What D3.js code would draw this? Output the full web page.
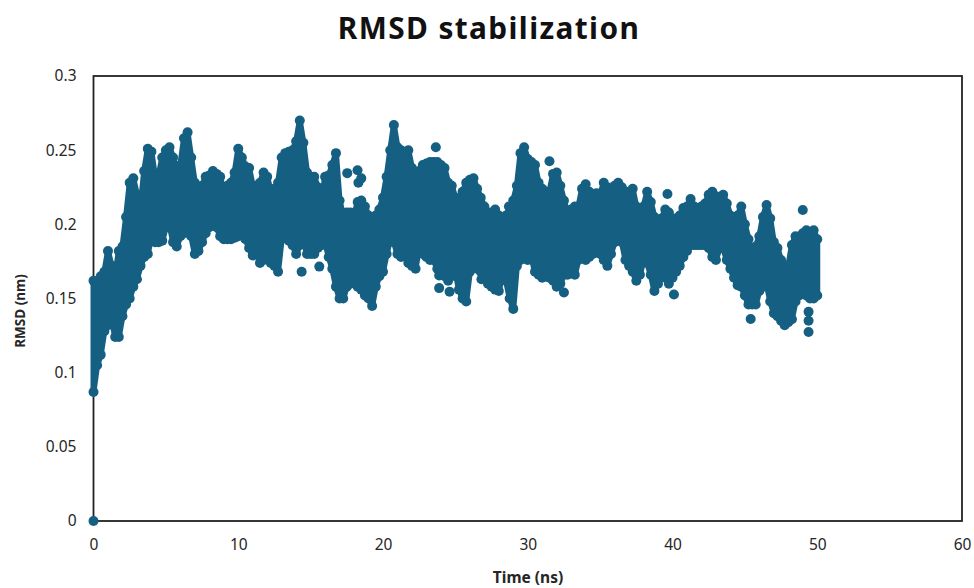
<!DOCTYPE html>
<html>
<head>
<meta charset="utf-8">
<title>RMSD stabilization</title>
<script src="https://cdn.jsdelivr.net/npm/d3@7"></script>
<style>
body { margin: 0; background: #fff; }
text { font-family: "Noto Sans", sans-serif; fill: #262626; }
</style>
</head>
<body>
<div id="chart"></div>
<script>
// values, one column every 0.25 ns
var timeStep = 0.25;
var xTicks = [0, 10, 20, 30, 40, 50, 60];
var yTicks = [0, 0.05, 0.1, 0.15, 0.2, 0.25, 0.3];

// top edge of the cloud
var rmsdHigh = [
    .162,.160,.165,.168, .182,.172,.166,.182, .185,.205,.228,.231, .220,.212,.236,.251,
    .249,.232,.233,.245, .250,.252,.245,.236, .240,.258,.262,.245, .228,.224,.226,.232,
    .233,.236,.234,.232, .222,.226,.228,.235, .251,.245,.239,.238, .226,.226,.228,.235,
    .232,.222,.224,.228, .245,.248,.249,.250, .256,.270,.255,.235, .232,.232,.225,.216,
    .232,.233,.240,.248, .216,.206,.208,.208, .206,.215,.216,.212, .206,.200,.206,.210,
    .218,.232,.250,.267, .252,.250,.247,.250, .238,.235,.236,.240, .241,.242,.242,.242,
    .240,.238,.228,.226, .218,.216,.222,.228, .230,.231,.224,.218, .212,.208,.208,.210,
    .206,.204,.206,.208, .216,.226,.248,.252, .244,.242,.240,.228, .224,.222,.222,.234,
    .235,.226,.216,.208, .210,.212,.212,.224, .227,.222,.220,.221, .220,.228,.225,.224,
    .226,.228,.225,.222, .222,.224,.212,.204, .212,.222,.215,.205, .203,.204,.210,.208,
    .204,.204,.206,.211, .212,.217,.212,.211, .212,.214,.220,.222, .219,.218,.220,.214,
    .206,.204,.206,.212, .200,.190,.180,.185, .192,.205,.213,.204, .188,.184,.176,.172,
    .172,.186,.192,.190, .194,.196,.190,.196, .190
];

// bottom edge of the cloud
var rmsdLow = [
    .087,.105,.112,.128, .132,.136,.124,.124, .138,.146,.150,.158, .163,.172,.178,.180,
    .192,.188,.188,.189, .198,.200,.188,.185, .192,.194,.199,.192, .180,.182,.188,.194,
    .198,.200,.198,.192, .190,.190,.190,.191, .192,.194,.190,.184, .179,.182,.174,.176,
    .178,.174,.172,.168, .190,.192,.189,.186, .180,.186,.190,.180, .180,.180,.184,.186,
    .188,.178,.170,.158, .150,.150,.158,.160, .162,.158,.156,.152, .150,.145,.158,.165,
    .168,.180,.190,.188, .180,.178,.180,.174, .172,.170,.185,.180, .178,.176,.176,.170,
    .170,.165,.162,.165, .168,.156,.150,.148, .168,.172,.170,.168, .165,.160,.158,.156,
    .155,.166,.162,.150, .143,.172,.176,.178, .176,.178,.168,.166, .164,.165,.164,.162,
    .158,.160,.166,.166, .168,.166,.176,.180, .176,.178,.180,.182, .180,.176,.172,.180,
    .188,.190,.188,.176, .172,.168,.162,.166, .176,.174,.166,.155, .160,.166,.164,.160,
    .164,.168,.172,.178, .182,.186,.186,.186, .186,.186,.184,.178, .176,.184,.184,.176,
    .170,.164,.159,.158, .152,.146,.146,.146, .155,.158,.160,.148, .140,.138,.135,.132,
    .134,.136,.148,.152, .154,.152,.150,.150, .152
];

// points standing clear of the cloud
var looseTime = [0, 14.38, 15.6, 17.53, 18.24, 18.3, 18.5, 23.65, 23.88, 23.88, 24.6, 26.8, 28.7, 31.5, 32.5, 39.65, 40.1, 45.4, 49, 49.4, 49.4, 49.4];
var looseRmsd = [0, .168, .1715, .2345, .2365, .228, .231, .252, .1655, .157, .1545, .163, .212, .2425, .154, .2205, .1527, .1362, .2097, .1274, .135, .141];

var dotColor = "#156082";
var dotRadius = 5;

var svg = d3.select("#chart").append("svg")
    .attr("width", 974)
    .attr("height", 588);

var x = d3.scaleLinear().domain([0, 60]).range([93.5, 962]);
var y = d3.scaleLinear().domain([0, 0.3]).range([521, 76]);

svg.append("text")
    .attr("x", 489)
    .attr("y", 39)
    .attr("text-anchor", "middle")
    .style("font-size", "29.8px")
    .style("font-weight", 700)
    .style("letter-spacing", "1.4px")
    .style("fill", "#111")
    .text("RMSD stabilization");

// frame
svg.append("rect")
    .attr("x", x(0))
    .attr("y", y(0.3))
    .attr("width", x(60) - x(0))
    .attr("height", y(0) - y(0.3))
    .attr("fill", "none")
    .attr("stroke", "#222")
    .attr("stroke-width", 1.8);

var xAxis = svg.append("g")
    .attr("transform", "translate(0," + y(0) + ")")
    .call(d3.axisBottom(x).tickValues(xTicks).tickSize(0).tickPadding(18).tickFormat(d3.format("d")));
var yAxis = svg.append("g")
    .attr("transform", "translate(" + x(0) + ",0)")
    .call(d3.axisLeft(y).tickValues(yTicks).tickSize(0).tickPadding(17).tickFormat(d3.format("~g")));

[xAxis, yAxis].forEach(function(axis) {
    axis.select(".domain").remove();
    axis.selectAll("text").style("font-size", "15.5px").style("font-family", '"Noto Sans", sans-serif');
});

// the middle of the cloud is solid in the picture; the stroke gives it the width of the stacked dots
var cloud = d3.area()
    .x(function(d, i) { return x(i * timeStep); })
    .y0(function(d, i) { return y(rmsdLow[i]); })
    .y1(function(d) { return y(d); });

svg.append("path")
    .datum(rmsdHigh)
    .attr("d", cloud)
    .attr("fill", dotColor)
    .attr("stroke", dotColor)
    .attr("stroke-width", 6)
    .attr("stroke-linejoin", "round");

function drawDots(cls, xs, values) {
    svg.selectAll("circle." + cls)
        .data(values)
        .enter().append("circle")
        .attr("class", cls)
        .attr("cx", function(d, i) { return x(xs(i)); })
        .attr("cy", function(d) { return y(d); })
        .attr("r", dotRadius)
        .attr("fill", dotColor);
}

function columnTime(i) { return i * timeStep; }

drawDots("high", columnTime, rmsdHigh);
drawDots("low", columnTime, rmsdLow);
drawDots("loose", function(i) { return looseTime[i]; }, looseRmsd);

svg.append("text")
    .attr("x", 528)
    .attr("y", 583)
    .attr("text-anchor", "middle")
    .style("font-size", "15.5px")
    .style("font-weight", 700)
    .text("Time (ns)");

svg.append("text")
    .attr("transform", "translate(25,311) rotate(-90)")
    .attr("text-anchor", "middle")
    .style("font-size", "13.5px")
    .style("font-weight", 700)
    .text("RMSD (nm)");
</script>
</body>
</html>
